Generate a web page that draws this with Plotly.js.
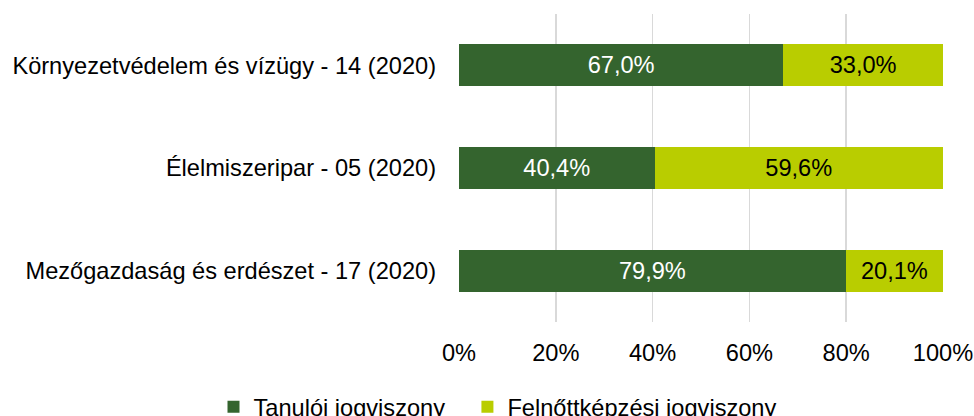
<!DOCTYPE html>
<html>
<head>
<meta charset="utf-8">
<script src="https://cdn.plot.ly/plotly-3.0.1.min.js"></script>
<style>html,body{margin:0;padding:0;background:#fff;}#chart{width:974px;height:416px;}</style>
</head>
<body>
<div id="chart"></div>
<script>
const categories = ["Mezőgazdaság és erdészet - 17 (2020)", "Élelmiszeripar - 05 (2020)", "Környezetvédelem és vízügy - 14 (2020)"];
const seriesNames = ["Tanulói jogviszony", "Felnőttképzési jogviszony"];
const tanuloi = [79.9, 40.4, 67.0];
const felnott = [20.1, 59.6, 33.0];
const xTickVals = [0, 20, 40, 60, 80, 100];
const xTickText = ["0%", "20%", "40%", "60%", "80%", "100%"];

const FONT = "Arial, 'Liberation Sans', sans-serif";
const FS = 23.6;
const fmt = v => v.toFixed(1).replace('.', ',') + '%';

const traces = [
  {
    type: 'bar', orientation: 'h', name: seriesNames[0], legend: 'legend',
    y: categories, x: tanuloi,
    text: tanuloi.map(fmt), textposition: 'inside', insidetextanchor: 'middle',
    textfont: {family: FONT, size: FS, color: '#ffffff'},
    marker: {color: '#34642E'}, width: 0.41, hoverinfo: 'none', constraintext: 'none'
  },
  {
    type: 'bar', orientation: 'h', name: seriesNames[1], legend: 'legend2',
    y: categories, x: felnott,
    text: felnott.map(fmt), textposition: 'inside', insidetextanchor: 'middle',
    textfont: {family: FONT, size: FS, color: '#000000'},
    marker: {color: '#B9CD00'}, width: 0.41, hoverinfo: 'none', constraintext: 'none'
  }
];

const legendBase = {
  orientation: 'h', xref: 'container', yref: 'container',
  xanchor: 'left', y: 0.0216, yanchor: 'middle',
  font: {family: FONT, size: FS, color: '#000000'},
  itemwidth: 30, bgcolor: 'rgba(0,0,0,0)'
};

const layout = {
  width: 974, height: 416,
  barmode: 'stack',
  margin: {l: 459, r: 31, t: 14, b: 94},
  paper_bgcolor: '#ffffff', plot_bgcolor: '#ffffff',
  font: {family: FONT, size: FS, color: '#000000'},
  xaxis: {
    range: [0, 100], tickvals: xTickVals, ticktext: xTickText,
    showgrid: true, gridcolor: '#D9D9D9', gridwidth: 1.5,
    zeroline: false, showline: false, ticks: '', ticklabelstandoff: 14,
    tickfont: {family: FONT, size: FS, color: '#000000'}, fixedrange: true
  },
  yaxis: {
    type: 'category', categoryorder: 'array', categoryarray: categories,
    range: [-0.5, 2.5], showgrid: false, zeroline: false, showline: false,
    ticks: '', ticklabelstandoff: 22,
    tickfont: {family: FONT, size: FS, color: '#000000'}, fixedrange: true
  },
  showlegend: true,
  legend: Object.assign({}, legendBase, {x: 0.2192}),
  legend2: Object.assign({}, legendBase, {x: 0.4799})
};

Plotly.newPlot('chart', traces, layout, {staticPlot: true, displayModeBar: false});
</script>
</body>
</html>
